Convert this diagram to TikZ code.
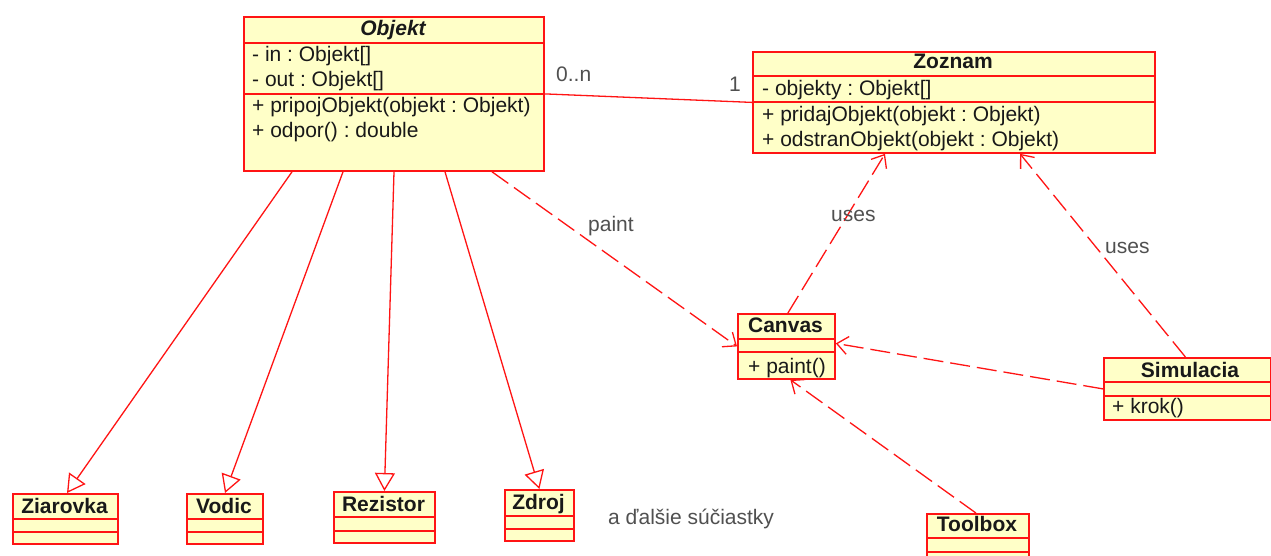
\documentclass[tikz,border=0pt]{standalone}
\usepackage{fontspec}
\setmainfont{Liberation Sans}
\usetikzlibrary{arrows.meta}
\definecolor{umlfill}{RGB}{255,255,200}
\definecolor{umlline}{RGB}{255,20,20}
\definecolor{lbl}{RGB}{80,80,80}
\definecolor{txt}{RGB}{25,25,25}
\tikzset{
  classbox/.style={draw=umlline, fill=umlfill, line width=1.8pt, anchor=north west, inner sep=0pt},
  divider/.style={draw=umlline, line width=1.6pt},
  ttl/.style={font=\fontsize{21}{22}\selectfont\bfseries, text=txt, anchor=base, inner sep=0pt},
  itm/.style={font=\fontsize{21}{22}\selectfont\frenchspacing, text=txt, anchor=base west, inner sep=0pt},
  lab/.style={font=\fontsize{21}{22}\selectfont\frenchspacing, text=lbl, anchor=base west, inner sep=0pt},
  gen/.style={draw=umlline, line width=1.3pt, -{Triangle[open, length=18pt, width=20pt, line width=1.3pt]}},
  dep/.style={draw=umlline, line width=1.3pt, dash pattern=on 20pt off 7pt, -{Straight Barb[length=11pt, width=18pt, line width=1.3pt]}},
  assoc/.style={draw=umlline, line width=1.3pt},
}
\begin{document}
\begin{tikzpicture}[x=1pt, y=-1pt]
\useasboundingbox (0,0) rectangle (1271,556);
\fill[white] (0,0) rectangle (1271,556);

% Objekt
\node[classbox, minimum width=300pt, minimum height=154pt] (objekt) at (243,16) {};
\draw[divider] (243,43) -- (543,43);
\draw[divider] (243,94) -- (543,94);
\node[ttl, font=\fontsize{21}{22}\selectfont\bfseries\itshape] (objektT) at (393,36) {Objekt};
\node[itm] (o1) at (252,62) {- in : Objekt[]};
\node[itm] (o2) at (252,87) {- out : Objekt[]};
\node[itm] (o3) at (252,113) {+ pripojObjekt(objekt : Objekt)};
\node[itm] (o4) at (252,138) {+ odpor() : double};

% Zoznam
\node[classbox, minimum width=402pt, minimum height=101pt] (zoznam) at (752,51) {};
\draw[divider] (752,76) -- (1154,76);
\draw[divider] (752,102) -- (1154,102);
\node[ttl] (zoznamT) at (953,69) {Zoznam};
\node[itm] (z1) at (762,96) {- objekty : Objekt[]};
\node[itm] (z2) at (762,122) {+ pridajObjekt(objekt : Objekt)};
\node[itm] (z3) at (762,147) {+ odstranObjekt(objekt : Objekt)};

% Canvas
\node[classbox, minimum width=97pt, minimum height=65pt] (canvas) at (737,313) {};
\draw[divider] (737,339) -- (834,339);
\draw[divider] (737,352) -- (834,352);
\node[ttl] (canvasT) at (785.5,332) {Canvas};
\node[itm] (c1) at (748,373) {+ paint()};

% Simulacia
\node[classbox, minimum width=167pt, minimum height=62pt] (sim) at (1103,357) {};
\draw[divider] (1103,382) -- (1270,382);
\draw[divider] (1103,396) -- (1270,396);
\node[ttl] (simT) at (1190,377) {Simulacia};
\node[itm] (s1) at (1112,413) {+ krok()};

% Toolbox
\node[classbox, minimum width=102pt, minimum height=50pt] (toolbox) at (926,513) {};
\draw[divider] (926,538) -- (1028,538);
\draw[divider] (926,552) -- (1028,552);
\node[ttl] (toolboxT) at (977,531) {Toolbox};

% Components
\node[classbox, minimum width=105pt, minimum height=50pt] (ziarovka) at (12,493) {};
\draw[divider] (12,519) -- (117,519);
\draw[divider] (12,532) -- (117,532);
\node[ttl] (ziarovkaT) at (64.5,513) {Ziarovka};

\node[classbox, minimum width=76pt, minimum height=50pt] (vodic) at (186,493) {};
\draw[divider] (186,519) -- (262,519);
\draw[divider] (186,532) -- (262,532);
\node[ttl] (vodicT) at (224,513) {Vodic};

\node[classbox, minimum width=101pt, minimum height=51pt] (rezistor) at (333,491) {};
\draw[divider] (333,517) -- (434,517);
\draw[divider] (333,531) -- (434,531);
\node[ttl] (rezistorT) at (383.5,511) {Rezistor};

\node[classbox, minimum width=69pt, minimum height=51pt] (zdroj) at (504,489) {};
\draw[divider] (504,516) -- (573,516);
\draw[divider] (504,529) -- (573,529);
\node[ttl] (zdrojT) at (538.5,509) {Zdroj};

\node[lab] (dalsie) at (608,524) {a ďalšie súčiastky};

% Generalizations
\draw[gen] ([xshift=49pt]objekt.south west) -- ([xshift=55pt]ziarovka.north west);
\draw[gen] ([xshift=100pt]objekt.south west) -- ([xshift=39pt]vodic.north west);
\draw[gen] ([xshift=151pt]objekt.south west) -- (rezistor.north);
\draw[gen] ([xshift=202pt]objekt.south west) -- (zdroj.north);

% Association
\draw[assoc] (objekt.east) -- (zoznam.west);
\node[lab] (mult1) at (556,82) {0..n};
\node[lab] (mult2) at (729,92) {1};

% Dependencies
\draw[dep] ([xshift=249pt]objekt.south west) -- (canvas.west);
\node[lab] (paintL) at (588,231) {paint};
\draw[dep] ([xshift=1.5pt]canvas.north) -- ([xshift=133pt]zoznam.south west);
\node[lab] (uses1) at (831,222) {uses};
\draw[dep] ([xshift=-2pt]sim.north) -- ([xshift=268pt]zoznam.south west);
\node[lab] (uses2) at (1105,253) {uses};
\draw[dep] (sim.west) -- ([yshift=3pt]canvas.east);
\draw[dep] ([xshift=-2pt]toolbox.north) -- ([xshift=4pt]canvas.south);
\end{tikzpicture}
\end{document}
